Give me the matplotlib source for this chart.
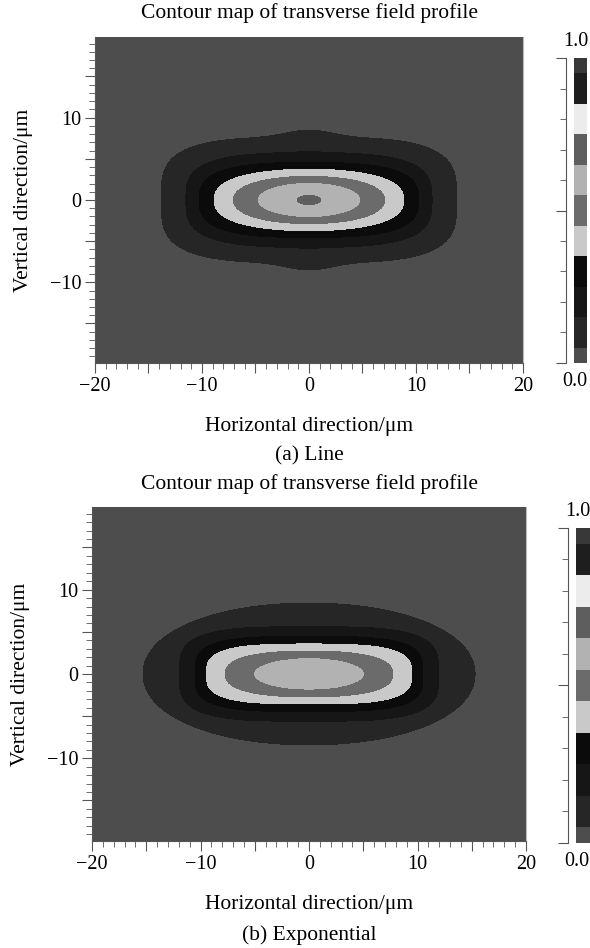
import numpy as np
import matplotlib
matplotlib.use("Agg")
import matplotlib.pyplot as plt
from matplotlib.colors import ListedColormap, BoundaryNorm
from matplotlib.ticker import MultipleLocator, FuncFormatter

# contour levels and grey palette (bottom -> top of colour bar)
levels = [0.0, 0.05, 0.15, 0.25, 0.35, 0.45, 0.55, 0.65, 0.75, 0.85, 0.95, 1.0]
grey_colors = ['#4d4d4d', '#262626', '#161616', '#0b0b0b', '#c9c9c9', '#6b6b6b',
               '#b2b2b2', '#5e5e5e', '#ececec', '#1e1e1e', '#383838']

# contour boundaries (um), outermost level first
# (a) Line
line_half_x = [13.8, 11.5, 10.25, 8.85, 7.05, 4.75, 1.1]
line_half_y = [7.6, 5.7, 4.55, 3.65, 2.85, 2.0, 0.55]
line_bump_y = [0.9, 0.15, 0.0, 0.1, 0.0, 0.0, 0.0]
line_shape = [3.5, 3.2, 2.9, 2.45, 2.2, 2.0, 2.0]
# (b) Exponential
exp_half_x = [15.3, 11.95, 10.5, 9.45, 7.7, 5.0]
exp_half_y = [8.4, 5.6, 4.45, 3.55, 2.7, 1.8]
exp_bump_y = [0.0, 0.0, 0.0, 0.0, 0.0, 0.0]
exp_shape = [2.1, 3.5, 3.5, 3.2, 2.5, 2.0]

TITLE = "Contour map of transverse field profile"
XLABEL = "Horizontal direction/\u03bcm"
YLABEL = "Vertical direction/\u03bcm"
SERIF = ['Liberation Serif', 'DejaVu Serif']

plt.rcParams['font.family'] = SERIF
plt.rcParams['axes.unicode_minus'] = True


def build_field(X, Y, hx, hy, bump, shape):
    # stack of nested super-ellipses, one step of 0.1 per boundary
    f = np.zeros_like(X)
    for a, b, bu, p in zip(hx, hy, bump, shape):
        bb = b + bu * np.exp(-(X / 3.0) ** 2)
        r = ((np.abs(X) / a) ** p + (np.abs(Y) / bb) ** p) ** (1.0 / p)
        f += 0.1 * 0.5 * (1 + np.tanh((1 - r) / 0.004))
    return f


gx = np.linspace(-20, 20, 900)
gy = np.linspace(-20, 20, 900)
X, Y = np.meshgrid(gx, gy)

cmap = ListedColormap(grey_colors)
norm = BoundaryNorm(levels, cmap.N)
mids = (np.array(levels[:-1]) + np.array(levels[1:])) / 2

fig = plt.figure(figsize=(5.9, 9.48), dpi=100)

panels = [
    (build_field(X, Y, line_half_x, line_half_y, line_bump_y, line_shape),
     [0.161, 0.6171, 0.7254, 0.3439], [0.9729, 0.6171, 0.022, 0.3217],
     "(a) Line", 1 - 13 / 948, 1 - 456 / 948),
    (build_field(X, Y, exp_half_x, exp_half_y, exp_bump_y, exp_shape),
     [0.156, 0.1129, 0.7356, 0.3523], [0.976, 0.1108, 0.0237, 0.3323],
     "(b) Exponential", 1 - 484 / 948, 1 - 935 / 948),
]

fmt = FuncFormatter(lambda v, p: f"{v:.0f}".replace('-', '\u2212') if abs(v) % 10 < 1e-6 else "")

for field, pos, cpos, caption, ty, cy in panels:
    ax = fig.add_axes(pos)
    ax.contourf(X, Y, field, levels=levels, cmap=cmap, norm=norm)
    ax.set_xlim(-20, 20)
    ax.set_ylim(-19.8, 19.8)
    ax.xaxis.set_major_locator(MultipleLocator(5))
    ax.xaxis.set_minor_locator(MultipleLocator(1))
    ax.yaxis.set_major_locator(MultipleLocator(5))
    ax.yaxis.set_minor_locator(MultipleLocator(1))
    ax.xaxis.set_major_formatter(fmt)
    ax.yaxis.set_major_formatter(fmt)
    ax.tick_params(which='major', direction='out', length=7, width=0.8, color='#555555',
                   labelsize=14.5, pad=3)
    ax.tick_params(which='minor', direction='out', length=4, width=0.6, color='#555555')
    ax.spines['top'].set_visible(False)
    ax.spines['right'].set_color('#bbbbbb')
    ax.spines['left'].set_color('#555555')
    ax.spines['bottom'].set_color('#555555')
    ax.set_xlabel(XLABEL, fontsize=15.5, labelpad=15)
    ax.set_ylabel(YLABEL, fontsize=15.5, labelpad=12)

    fig.text(0.525, ty, TITLE, ha='center', va='center', fontsize=15.5)
    fig.text(0.525, cy, caption, ha='center', va='center', fontsize=15.5)

    # colour bar drawn as a one-column mesh of the level bands
    cax = fig.add_axes(cpos)
    cax.pcolormesh([0, 1], levels, mids.reshape(-1, 1), cmap=cmap, norm=norm)
    cax.set_xlim(0, 1)
    cax.set_ylim(0, 1)
    cax.set_xticks([])
    for s in ['top', 'right', 'bottom']:
        cax.spines[s].set_visible(False)
    cax.spines['left'].set_position(('outward', 5.5))
    cax.spines['left'].set_color('#555555')
    cax.set_yticks([0.0, 0.5, 1.0])
    cax.set_yticks(np.arange(0.0, 1.01, 0.1), minor=True)
    cax.tick_params(axis='y', which='both', left=True, right=False,
                    labelleft=False, labelright=False)
    cax.tick_params(which='major', direction='out', length=7, width=0.8, color='#555555')
    cax.tick_params(which='minor', direction='out', length=4, width=0.6, color='#555555')
    top = cpos[1] + cpos[3]
    fig.text(cpos[0] + 0.003, top + 0.017, "1.0", ha='center', va='center', fontsize=14.5)
    fig.text(cpos[0] + 0.001, cpos[1] - 0.02, "0.0", ha='center', va='center', fontsize=14.5)

fig.savefig("out.png", dpi=100)
